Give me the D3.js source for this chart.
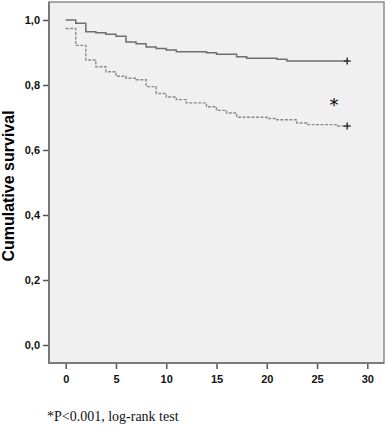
<!DOCTYPE html>
<html>
<head>
<meta charset="utf-8">
<script src="https://cdn.jsdelivr.net/npm/d3@7"></script>
<style>
  body { margin: 0; background: #fff; }
  svg { display: block; }
</style>
</head>
<body>
<div id="chart"></div>
<script>
// step points of the two survival curves (time, cumulative survival)
const solidTimes = [0, 1, 2, 3, 4, 5, 6, 7, 8, 9, 10, 11, 14, 15, 17, 18, 21, 22, 28];
const solidSurv = [1.0, 0.990, 0.964, 0.961, 0.956, 0.950, 0.932, 0.927, 0.917, 0.912, 0.908, 0.902, 0.899, 0.895, 0.887, 0.882, 0.879, 0.874, 0.874];
const dashTimes = [0, 1, 2, 3, 4, 5, 6, 7, 8, 9, 10, 11, 12, 14, 15, 16, 17, 20, 21, 23, 24, 27, 28];
const dashSurv = [0.974, 0.922, 0.877, 0.856, 0.841, 0.827, 0.821, 0.816, 0.795, 0.774, 0.763, 0.755, 0.745, 0.733, 0.722, 0.714, 0.701, 0.697, 0.693, 0.683, 0.678, 0.674, 0.674];
const xTicks = [0, 5, 10, 15, 20, 25, 30];
const yTicks = [0, 0.2, 0.4, 0.6, 0.8, 1.0];

const width = 386, height = 426;
const frame = {left: 49, top: 2, right: 384, bottom: 363};

const svg = d3.select('#chart').append('svg')
    .attr('width', width)
    .attr('height', height);

const x = d3.scaleLinear().domain([0, 30]).range([65.7, 367.3]);
const y = d3.scaleLinear().domain([0, 1]).range([345, 20]);

// plot background
svg.append('rect')
    .attr('x', frame.left)
    .attr('y', frame.top)
    .attr('width', frame.right - frame.left)
    .attr('height', frame.bottom - frame.top)
    .attr('fill', '#f0f0f0')
    .attr('stroke', '#8c8c8c')
    .attr('stroke-width', 1.5);

// left + bottom axis lines a bit darker
svg.append('path')
    .attr('d', `M${frame.left},${frame.top}V${frame.bottom}H${frame.right}`)
    .attr('fill', 'none')
    .attr('stroke', '#7a7a7a')
    .attr('stroke-width', 2);

const fmt = d => d3.format('.1f')(d).replace('.', ',');

const yAxis = svg.append('g')
    .attr('transform', `translate(${frame.left - 1},0)`)
    .call(d3.axisLeft(y).tickValues(yTicks).tickFormat(fmt).tickSize(5).tickPadding(3));
const xAxis = svg.append('g')
    .attr('transform', `translate(0,${frame.bottom + 1})`)
    .call(d3.axisBottom(x).tickValues(xTicks).tickSize(5).tickPadding(6));

[yAxis, xAxis].forEach(a => {
    a.select('.domain').remove();
    a.selectAll('.tick line').attr('stroke', '#555').attr('stroke-width', 1.5);
    a.selectAll('.tick text')
        .attr('fill', '#111')
        .style('font-family', 'Liberation Sans, Arial, sans-serif')
        .style('font-weight', 'bold')
        .style('font-size', '11px');
});

// y axis title
svg.append('text')
    .attr('transform', 'translate(14,186) rotate(-90)')
    .attr('text-anchor', 'middle')
    .style('font-family', 'Liberation Sans, Arial, sans-serif')
    .style('font-weight', 'bold')
    .style('font-size', '16px')
    .attr('fill', '#000')
    .text('Cumulative survival');

const line = d3.line()
    .x(d => x(d[0]))
    .y(d => y(d[1]))
    .curve(d3.curveStepAfter);

const solid = solidTimes.map((t, i) => [t, solidSurv[i]]);
const dashed = dashTimes.map((t, i) => [t, dashSurv[i]]);

svg.append('path')
    .datum(dashed)
    .attr('d', line)
    .attr('fill', 'none')
    .attr('stroke', '#8a8a8a')
    .attr('stroke-width', 1.4)
    .attr('stroke-dasharray', '3,1.5');

svg.append('path')
    .datum(solid)
    .attr('d', line)
    .attr('fill', 'none')
    .attr('stroke', '#6e6e6e')
    .attr('stroke-width', 1.5);

// censor marks at the last time point
[solid, dashed].forEach(s => {
    const last = s[s.length - 1];
    const cx = x(last[0]), cy = y(last[1]);
    svg.append('path')
        .attr('d', `M${cx - 3.5},${cy}H${cx + 3.5}M${cx},${cy - 3.5}V${cy + 3.5}`)
        .attr('stroke', '#333')
        .attr('stroke-width', 1.5);
});

// significance star
svg.append('text')
    .attr('x', 334)
    .attr('y', 111)
    .attr('text-anchor', 'middle')
    .style('font-family', 'DejaVu Sans, sans-serif')
    .style('font-size', '18px')
    .attr('fill', '#000')
    .text('*');

svg.append('text')
    .attr('x', 47)
    .attr('y', 421)
    .style('font-family', 'Liberation Serif, Times New Roman, serif')
    .style('font-size', '14px')
    .attr('fill', '#111')
    .text('*P<0.001, log-rank test');
</script>
</body>
</html>
